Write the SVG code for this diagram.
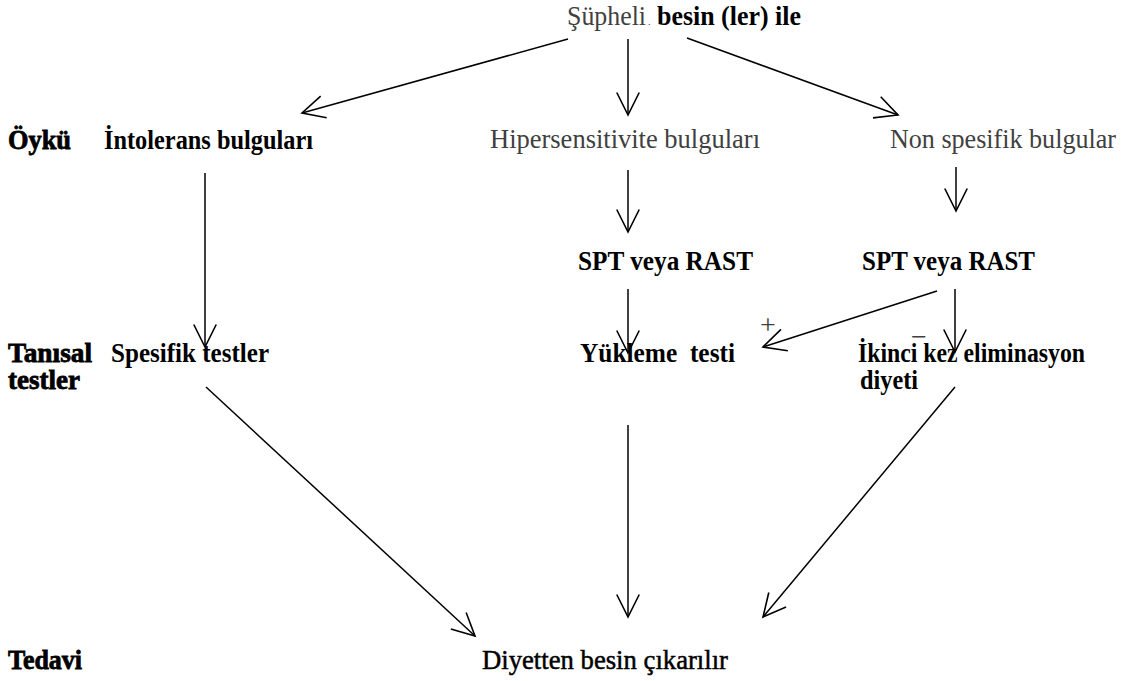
<svg xmlns="http://www.w3.org/2000/svg" width="1125" height="681" viewBox="0 0 1125 681">
<defs>
<style>
text{font-family:"Liberation Serif","Times New Roman",serif;font-size:28px;}
.b{font-weight:bold;fill:#000;}
.h{font-weight:bold;fill:#000;stroke:#000;stroke-width:0.8px;}
.g{fill:#404040;}
.k{fill:#000;stroke:#000;stroke-width:0.5px;}
text.s{font-size:28px;fill:#404040;}
.c line{stroke:#000;stroke-width:1.5;fill:none;marker-end:url(#ah);}
</style>
<marker id="ah" markerUnits="userSpaceOnUse" markerWidth="30" markerHeight="30" viewBox="-24 -14 28 28" refX="0" refY="0" orient="auto">
<path d="M-21,-10.5 L0,0 L-21,10.5" fill="none" stroke="#000" stroke-width="1.5"/>
</marker>
</defs>
<rect width="1125" height="681" fill="#fff"/>

<g id="n-supheli">
<text x="567" y="25" class="g" textLength="79" lengthAdjust="spacingAndGlyphs">Şüpheli</text>
<text x="648" y="25" class="g" style="font-size:10px">.</text>
<text x="657" y="25" class="b" textLength="144" lengthAdjust="spacingAndGlyphs">besin (ler) ile</text>
</g>

<g id="lbl-oyku"><text x="8" y="149" class="h" textLength="63" lengthAdjust="spacingAndGlyphs">Öykü</text></g>
<g id="lbl-tanisal">
<text x="8" y="362" class="h" textLength="84" lengthAdjust="spacingAndGlyphs">Tanısal</text>
<text x="8" y="389" class="h" textLength="72" lengthAdjust="spacingAndGlyphs">testler</text>
</g>
<g id="lbl-tedavi"><text x="8" y="669" class="h" textLength="74" lengthAdjust="spacingAndGlyphs">Tedavi</text></g>

<g id="n-intolerans"><text x="104" y="149" class="b" textLength="209" lengthAdjust="spacingAndGlyphs">İntolerans bulguları</text></g>
<g id="n-hiper"><text x="490" y="148" class="g" textLength="270" lengthAdjust="spacingAndGlyphs">Hipersensitivite bulguları</text></g>
<g id="n-nonspes"><text x="890" y="148" class="g" textLength="226" lengthAdjust="spacingAndGlyphs">Non spesifik bulgular</text></g>

<g id="n-spt1"><text x="578" y="270" class="b" textLength="175" lengthAdjust="spacingAndGlyphs">SPT veya RAST</text></g>
<g id="n-spt2"><text x="862" y="270" class="b" textLength="173" lengthAdjust="spacingAndGlyphs">SPT veya RAST</text></g>

<g id="n-spesifik"><text x="111" y="362" class="b" textLength="158" lengthAdjust="spacingAndGlyphs">Spesifik testler</text></g>
<g id="n-yukleme"><text x="580" y="362" class="b" textLength="155" lengthAdjust="spacingAndGlyphs" xml:space="preserve">Yükleme  testi</text></g>
<g id="n-ikinci">
<text x="858" y="362" class="b" textLength="227" lengthAdjust="spacingAndGlyphs">İkinci kez eliminasyon</text>
<text x="860" y="389" class="b" textLength="58" lengthAdjust="spacingAndGlyphs">diyeti</text>
</g>

<g id="n-diyetten"><text x="482" y="669" class="k" textLength="246" lengthAdjust="spacingAndGlyphs">Diyetten besin çıkarılır</text></g>

<g id="connectors" class="c">
<line x1="568" y1="39" x2="302" y2="113"/>
<line x1="628" y1="39" x2="628" y2="115"/>
<line x1="687" y1="38" x2="898" y2="115"/>
<line x1="205" y1="173" x2="205" y2="347"/>
<line x1="628" y1="170" x2="628" y2="232"/>
<line x1="956" y1="167" x2="956" y2="211"/>
<line x1="628" y1="289" x2="628" y2="353"/>
<line x1="937" y1="291" x2="763" y2="347"/>
<line x1="955" y1="289" x2="955" y2="352"/>
<line x1="206" y1="387" x2="475" y2="636"/>
<line x1="628" y1="425" x2="628" y2="617"/>
<line x1="955" y1="387" x2="763" y2="617"/>
</g>
<g id="edge-labels">
<text x="768" y="334" class="s" text-anchor="middle" font-size="28">+</text>
<text x="919" y="346" class="s" text-anchor="middle" font-size="28">−</text>
</g>
</svg>
